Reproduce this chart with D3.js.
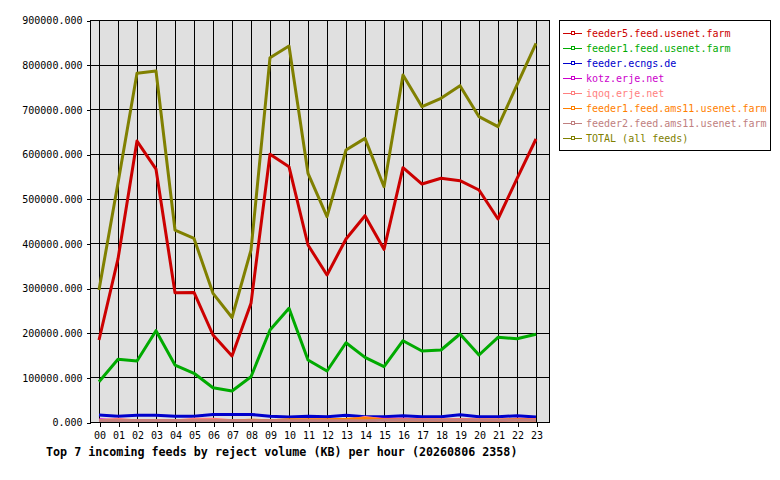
<!DOCTYPE html>
<html>
<head>
<meta charset="utf-8">
<script src="https://cdn.jsdelivr.net/npm/d3@7"></script>
<style>
  body { margin: 0; background: #fff; }
  svg { display: block; }
  text { font-family: "DejaVu Sans Mono", monospace; }
</style>
</head>
<body>
<svg id="chart"></svg>
<script>
// hours on the x axis
const hours = ['00','01','02','03','04','05','06','07','08','09','10','11',
               '12','13','14','15','16','17','18','19','20','21','22','23'];

const feedNames = [
  'feeder5.feed.usenet.farm',
  'feeder1.feed.usenet.farm',
  'feeder.ecngs.de',
  'kotz.erje.net',
  'iqoq.erje.net',
  'feeder1.feed.ams11.usenet.farm',
  'feeder2.feed.ams11.usenet.farm',
  'TOTAL (all feeds)'
];
const feedColors = ['#cc0000', '#00aa00', '#0000cc', '#cc00cc', '#ff8080', '#ff8000', '#c08080', '#808000'];

// reject volume in KB per hour
const feeder5 = [183600, 365000, 629000, 566000, 289500, 290000, 194800, 147800, 265700, 599300, 571600, 396300,
                 329100, 409700, 461900, 386600, 569400, 532800, 545600, 540300, 519400, 454500, 545000, 633600];
const feeder1 = [90200, 140300, 136600, 204400, 127600, 109000, 76800, 69400, 101400, 206000, 254500, 138800,
                 114200, 177500, 144800, 123800, 182000, 159000, 161200, 197000, 150000, 189600, 186500, 196300];
const ecngs = [15500, 13000, 15000, 15000, 13000, 13000, 17000, 17000, 17000, 13000, 11000, 13000,
               12000, 15000, 12000, 12000, 14000, 12000, 12000, 16000, 12000, 12000, 14000, 11000];
const kotz = [5000, 3000, 3000, 3000, 3000, 3000, 3000, 3000, 3000, 3000, 3000, 4000,
              4000, 4000, 9000, 6000, 6000, 5000, 4000, 5000, 4000, 3000, 6000, 5000];
const iqoq = [3000, 6000, 2000, 2000, 2000, 6000, 6000, 3000, 3000, 3000, 3000, 3000,
              3000, 3000, 10000, 5000, 5000, 5000, 5000, 5000, 5000, 5000, 5000, 5000];
const ams11a = [2000, 2000, 2000, 2000, 2000, 2000, 2000, 2000, 4000, 3000, 5000, 5000,
                5000, 6000, 8000, 5000, 4000, 4000, 4000, 4000, 4000, 4000, 5000, 4000];
const ams11b = [3000, 3000, 3000, 3000, 3000, 3000, 3000, 3000, 3000, 3000, 3000, 3000,
                3000, 3000, 3000, 4000, 4000, 4000, 4000, 4000, 4000, 4000, 4000, 4000];
const total = [295500, 535000, 780700, 785800, 429800, 411000, 288000, 234000, 385000, 815600, 841800, 556800,
               459600, 609000, 635000, 526800, 776900, 706000, 724700, 753000, 683600, 661200, 754500, 847700];

const yTicks = [0, 100000, 200000, 300000, 400000, 500000, 600000, 700000, 800000, 900000];
const title = 'Top 7 incoming feeds by reject volume (KB) per hour (20260806 2358)';

const WIDTH = 780;
const HEIGHT = 480;
const PLOT_LEFT = 90;
const PLOT_RIGHT = 549;
const PLOT_TOP = 20;
const PLOT_BOTTOM = 422;

const seriesData = [feeder5, feeder1, ecngs, kotz, iqoq, ams11a, ams11b, total];

const svg = d3.select('#chart').attr('width', WIDTH).attr('height', HEIGHT);

const xScale = d3.scaleLinear().domain([0, hours.length - 1]).range([99, 536]);
const yScale = d3.scaleLinear().domain([0, 900000]).range([PLOT_BOTTOM, PLOT_TOP]);

// plot background
svg.append('rect')
  .attr('x', PLOT_LEFT + 0.5).attr('y', PLOT_TOP + 0.5)
  .attr('width', PLOT_RIGHT - PLOT_LEFT).attr('height', PLOT_BOTTOM - PLOT_TOP)
  .attr('fill', '#e0e0e0');

// grid
const grid = svg.append('g').attr('stroke', '#000').attr('stroke-width', 1).attr('shape-rendering', 'crispEdges');
grid.selectAll('.hgrid')
  .data(yTicks)
  .join('line')
  .attr('class', 'hgrid')
  .attr('x1', PLOT_LEFT).attr('x2', PLOT_RIGHT)
  .attr('y1', d => Math.round(yScale(d)) + 0.5)
  .attr('y2', d => Math.round(yScale(d)) + 0.5);
grid.selectAll('.vgrid')
  .data(hours)
  .join('line')
  .attr('class', 'vgrid')
  .attr('x1', (d, i) => Math.round(xScale(i)) + 0.5)
  .attr('x2', (d, i) => Math.round(xScale(i)) + 0.5)
  .attr('y1', PLOT_TOP).attr('y2', PLOT_BOTTOM);

// series lines, TOTAL drawn last
const line = d3.line()
  .x((d, i) => xScale(i))
  .y(d => yScale(d));

svg.append('g')
  .selectAll('path')
  .data(seriesData)
  .join('path')
  .attr('fill', 'none')
  .attr('stroke', (d, i) => feedColors[i])
  .attr('stroke-width', 3)
  .attr('stroke-linejoin', 'round')
  .attr('d', d => line(d));

// plot border
svg.append('rect')
  .attr('x', PLOT_LEFT + 0.5).attr('y', PLOT_TOP + 0.5)
  .attr('width', PLOT_RIGHT - PLOT_LEFT).attr('height', PLOT_BOTTOM - PLOT_TOP)
  .attr('fill', 'none').attr('stroke', '#000').attr('shape-rendering', 'crispEdges');

// y axis
const yAxis = d3.axisLeft(yScale)
  .tickValues(yTicks)
  .tickFormat(d3.format('.3f'))
  .tickSize(4)
  .tickPadding(4);
const yAxisGroup = svg.append('g')
  .attr('transform', `translate(${PLOT_LEFT + 0.5}, 0.5)`)
  .call(yAxis);

// x axis
const xAxisScale = d3.scalePoint().domain(hours).range([xScale(0), xScale(hours.length - 1)]);
const xAxis = d3.axisBottom(xAxisScale).tickSize(4).tickPadding(5);
const xAxisGroup = svg.append('g')
  .attr('transform', `translate(0.5, ${PLOT_BOTTOM + 0.5})`)
  .call(xAxis);

[yAxisGroup, xAxisGroup].forEach(g => {
  g.select('.domain').remove();
  g.selectAll('line').attr('stroke', '#000').attr('shape-rendering', 'crispEdges');
  g.selectAll('text').attr('fill', '#000').style('font-size', '10px')
    .style('font-family', '"DejaVu Sans Mono", monospace');
});

// title
svg.append('text')
  .attr('x', 46)
  .attr('y', 456)
  .style('font-size', '11.7px')
  .style('font-weight', 'bold')
  .attr('fill', '#000')
  .text(title);

// legend
const legend = svg.append('g');
legend.append('rect')
  .attr('x', 559.5).attr('y', 20.5)
  .attr('width', 211).attr('height', 130)
  .attr('fill', '#fff').attr('stroke', '#000').attr('shape-rendering', 'crispEdges');

const rows = legend.selectAll('.row')
  .data(feedNames)
  .join('g')
  .attr('class', 'row')
  .attr('transform', (d, i) => `translate(0, ${33 + i * 15})`);
rows.append('line')
  .attr('x1', 563).attr('x2', 582).attr('y1', 0.5).attr('y2', 0.5)
  .attr('stroke', (d, i) => feedColors[i]).attr('shape-rendering', 'crispEdges');
rows.append('rect')
  .attr('x', 571.5).attr('y', -1.5).attr('width', 3).attr('height', 3)
  .attr('fill', '#fff').attr('stroke', (d, i) => feedColors[i]).attr('shape-rendering', 'crispEdges');
rows.append('text')
  .attr('x', 586).attr('y', 4)
  .style('font-size', '10px')
  .attr('fill', (d, i) => feedColors[i])
  .text(d => d);
</script>
</body>
</html>
